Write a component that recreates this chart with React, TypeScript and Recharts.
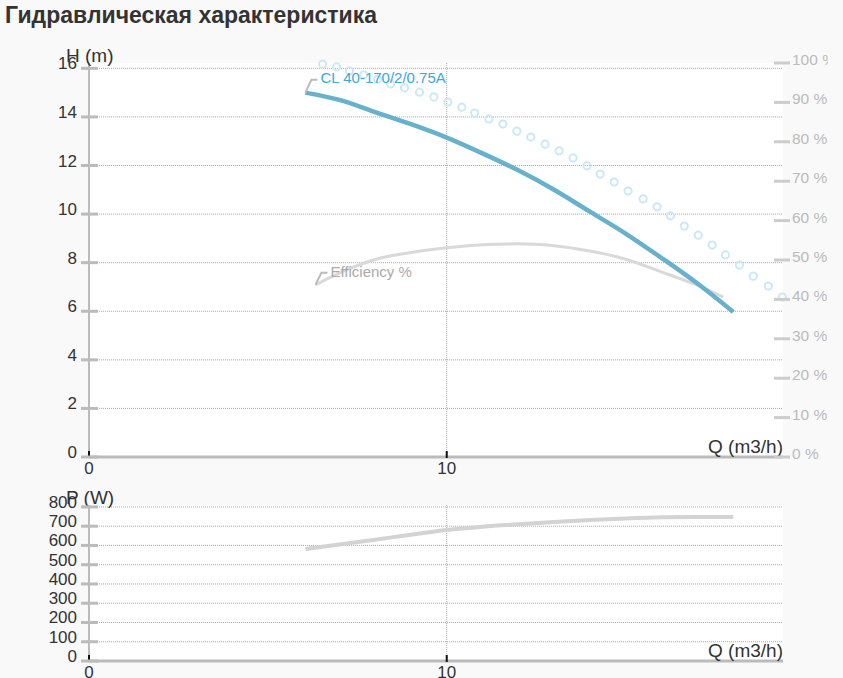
import React from 'react';
import { LineChart, Line, XAxis, YAxis, CartesianGrid } from 'recharts';

const FONT = "'Liberation Sans', Arial, Helvetica, sans-serif";

const titleText = 'Гидравлическая характеристика';
const pumpName = 'CL 40-170/2/0.75A';
const effName = 'Efficiency %';

// Head curve H (m) vs Q (m3/h)
const headFlow = [6.05, 7, 8, 9, 10, 11, 12, 13, 14, 15, 16, 17, 18.01];
const headValues = [15.0, 14.7, 14.2, 13.7, 13.15, 12.5, 11.8, 11.0, 10.1, 9.2, 8.2, 7.15, 5.97];

// Efficiency (%) vs Q
const effFlow = [6.33, 7.2, 8.15, 9, 10, 11, 12, 13, 14, 15, 16, 17, 17.73];
const effValues = [43.7, 47.5, 50.5, 51.9, 53.1, 53.9, 54.1, 53.6, 52.3, 50.2, 47.0, 43.6, 40.6];

// Light blue circles (%) vs Q
const circleFlow = [6.53, 6.92, 7.28, 7.68, 8.07, 8.43, 8.82, 9.24, 9.64, 10.03, 10.42, 10.78, 11.18, 11.57, 11.96, 12.35, 12.75, 13.14, 13.53, 13.92, 14.29, 14.68, 15.07, 15.49, 15.88, 16.25, 16.64, 17.03, 17.42, 17.79, 18.18, 18.57, 18.99, 19.38];
const circleValues = [99.7, 99.0, 98.0, 97.0, 95.9, 94.7, 93.7, 92.6, 91.4, 90.1, 88.8, 87.3, 85.8, 84.5, 82.7, 81.2, 79.4, 77.7, 75.9, 73.9, 71.8, 69.8, 67.5, 65.5, 63.5, 61.2, 58.6, 56.3, 53.8, 51.3, 48.7, 45.9, 43.4, 40.6];

// Power P (W) vs Q
const powerFlow = [6.05, 7, 8, 9, 10, 11, 12, 13, 14, 15, 16, 17, 18.01];
const powerValues = [582, 605, 630, 656, 680, 697, 710, 722, 732, 740, 746, 748, 748];

const hTicks = [0, 2, 4, 6, 8, 10, 12, 14, 16];
const pctTicks = [0, 10, 20, 30, 40, 50, 60, 70, 80, 90, 100];
const pTicks = [0, 100, 200, 300, 400, 500, 600, 700, 800];
const qTicks = [0, 10];

const zip = (xs: number[], ys: number[]) => xs.map((q, i) => ({ q, v: ys[i] }));
const headData = zip(headFlow, headValues);
const effData = zip(effFlow, effValues);
const circleData = zip(circleFlow, circleValues);
const powerData = zip(powerFlow, powerValues);

const LeftTick = (props: any) => {
  const { x, y, payload } = props;
  return (
    <g>
      <line x1={x - 8} x2={x + 9} y1={y} y2={y} stroke="#bbbbbb" strokeWidth={3} />
      <text x={x - 12} y={y + 1} textAnchor="end" fontSize={17} fill="#333" fontFamily={FONT}>
        {payload.value}
      </text>
    </g>
  );
};

const RightTick = (props: any) => {
  const { x, y, payload } = props;
  return (
    <g>
      <line x1={x - 9} x2={x + 7} y1={y} y2={y} stroke="#cccccc" strokeWidth={3} />
      <text x={x + 9} y={y + 2} textAnchor="start" fontSize={15.5} fill="#bbbbbb" fontFamily={FONT}>
        {`${payload.value} %`}
      </text>
    </g>
  );
};

const BottomTick = (props: any) => {
  const { x, y, payload } = props;
  return (
    <g>
      <line x1={x} x2={x} y1={y - 6} y2={y + 1} stroke="#111" strokeWidth={2} />
      <text x={x} y={y + 17} textAnchor="middle" fontSize={17} fill="#333" fontFamily={FONT}>
        {payload.value}
      </text>
    </g>
  );
};

const axisTitleLeft = (text: string) => (p: any) => {
  const vb = p.viewBox || {};
  return (
    <text x={vb.x + vb.width - 23} y={vb.y - 1} fontSize={19} fill="#333" fontFamily={FONT}>
      {text}
    </text>
  );
};

const axisTitleBottom = (p: any) => {
  const vb = p.viewBox || {};
  return (
    <text x={vb.x + vb.width} y={vb.y - 4} textAnchor="end" fontSize={19} fill="#333" fontFamily={FONT}>
      Q (m3/h)
    </text>
  );
};

const annotated = (text: string, color: string, textDy: number, lineDy: number) => (p: any) => {
  const { cx, cy, index } = p;
  if (index !== 0) return <g key={`d${index}`} />;
  return (
    <g key={`d${index}`}>
      <polyline
        points={`${cx},${cy} ${cx + 6},${cy + lineDy} ${cx + 12},${cy + lineDy}`}
        fill="none"
        stroke="#bbbbbb"
        strokeWidth={2}
      />
      <text x={cx + 15} y={cy + textDy} fontSize={15} fill={color} fontFamily={FONT}>
        {text}
      </text>
    </g>
  );
};

export default function App() {
  return (
    <div
      style={{
        position: 'absolute',
        left: 0,
        top: 0,
        width: 843,
        height: 678,
        background: '#f9f9f9',
        overflow: 'hidden',
        fontFamily: FONT,
      }}
    >
      <div
        style={{
          position: 'absolute',
          left: 5,
          top: 4,
          fontSize: 23,
          lineHeight: '23px',
          fontWeight: 'bold',
          color: '#333',
          whiteSpace: 'nowrap',
        }}
      >
        {titleText}
      </div>

      <div style={{ position: 'absolute', left: 0, top: 0 }}>
        <LineChart width={828} height={480} margin={{ top: 63, right: 0, bottom: 0, left: 0 }}>
          <CartesianGrid
            yAxisId="left"
            syncWithTicks
            fill="#ffffff"
            stroke="#a8a8a8"
            strokeDasharray="1 1"
          />
          <XAxis
            dataKey="q"
            type="number"
            domain={[0, 19.4]}
            ticks={qTicks}
            interval={0}
            height={23}
            tickSize={0}
            tickMargin={0}
            tickLine={false}
            axisLine={{ stroke: '#bbbbbb', strokeWidth: 3 }}
            tick={<BottomTick />}
            label={{ content: axisTitleBottom }}
          />
          <YAxis
            yAxisId="left"
            orientation="left"
            type="number"
            domain={[0, 16.22]}
            ticks={hTicks}
            interval={0}
            width={89}
            tickSize={0}
            tickMargin={0}
            tickLine={false}
            axisLine={{ stroke: '#bbbbbb', strokeWidth: 2 }}
            tick={<LeftTick />}
            label={{ content: axisTitleLeft('H (m)') }}
          />
          <YAxis
            yAxisId="right"
            orientation="right"
            type="number"
            domain={[0, 100]}
            ticks={pctTicks}
            interval={0}
            width={45}
            tickSize={0}
            tickMargin={0}
            tickLine={false}
            axisLine={false}
            tick={<RightTick />}
          />
          <Line
            yAxisId="right"
            data={effData}
            dataKey="v"
            type="monotone"
            stroke="#d9d9d9"
            strokeWidth={3}
            dot={annotated(effName, '#aaaaaa', -8, -12)}
            activeDot={false}
            isAnimationActive={false}
          />
          <Line
            yAxisId="right"
            data={circleData}
            dataKey="v"
            type="linear"
            stroke="none"
            strokeWidth={0}
            dot={{ r: 3.6, stroke: '#cce8f5', strokeWidth: 2, fill: 'none' }}
            activeDot={false}
            isAnimationActive={false}
          />
          <Line
            yAxisId="left"
            data={headData}
            dataKey="v"
            type="monotone"
            stroke="#68b1cd"
            strokeWidth={4.5}
            dot={annotated(pumpName, '#3ea8d8', -10, -13)}
            activeDot={false}
            isAnimationActive={false}
          />
        </LineChart>
      </div>

      <div style={{ position: 'absolute', left: 0, top: 480 }}>
        <LineChart width={828} height={198} margin={{ top: 25, right: 45, bottom: 0, left: 0 }}>
          <CartesianGrid syncWithTicks fill="#ffffff" stroke="#a8a8a8" strokeDasharray="1 1" />
          <XAxis
            dataKey="q"
            type="number"
            domain={[0, 19.4]}
            ticks={qTicks}
            interval={0}
            height={17}
            tickSize={0}
            tickMargin={0}
            tickLine={false}
            axisLine={{ stroke: '#bbbbbb', strokeWidth: 3 }}
            tick={<BottomTick />}
            label={{ content: axisTitleBottom }}
          />
          <YAxis
            type="number"
            domain={[0, 810]}
            ticks={pTicks}
            interval={0}
            width={89}
            tickSize={0}
            tickMargin={0}
            tickLine={false}
            axisLine={{ stroke: '#bbbbbb', strokeWidth: 2 }}
            tick={<LeftTick />}
            label={{ content: axisTitleLeft('P (W)') }}
          />
          <Line
            data={powerData}
            dataKey="v"
            type="monotone"
            stroke="#d3d3d3"
            strokeWidth={4}
            dot={false}
            activeDot={false}
            isAnimationActive={false}
          />
        </LineChart>
      </div>
    </div>
  );
}
